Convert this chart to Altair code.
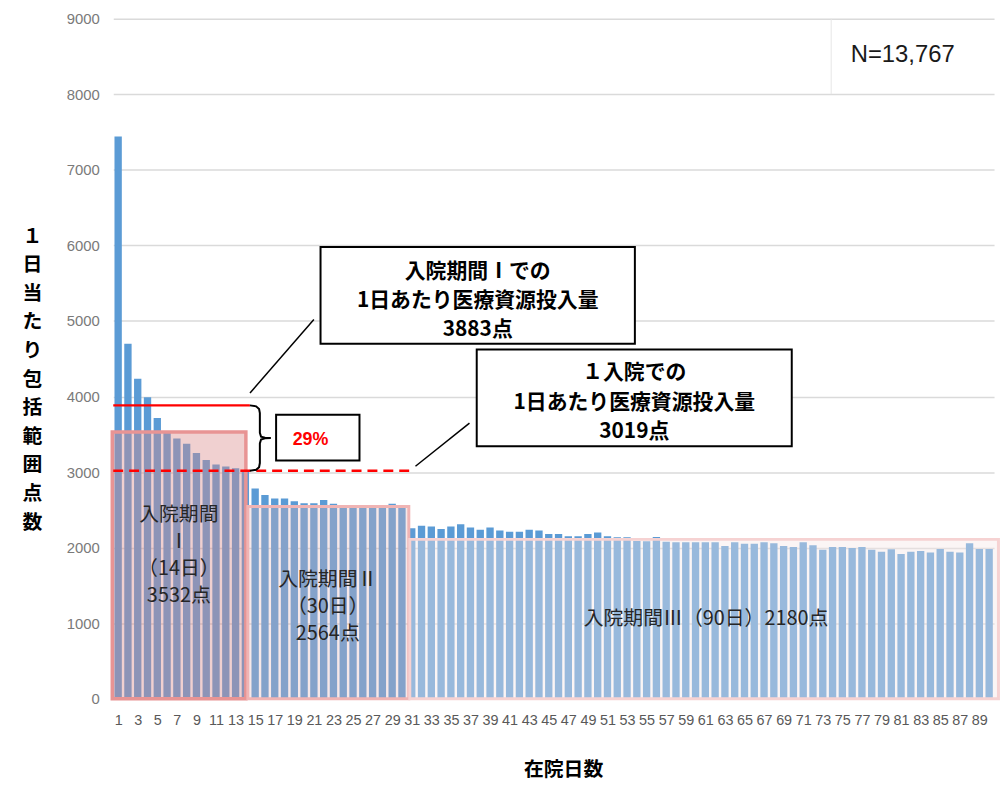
import altair as alt
import pandas as pd

# ---------------- data ----------------
days = list(range(1, 91))
values = [7440, 4700, 4235, 3990, 3717, 3530, 3444, 3374, 3253, 3162, 3101, 3076, 3050, 3025,
          2782, 2698, 2650, 2650, 2615, 2589, 2589, 2632, 2580, 2550, 2545, 2545, 2545, 2545, 2580, 2545,
          2258, 2292, 2279, 2249, 2279, 2309, 2266, 2236, 2266, 2227,
          2210, 2210, 2236, 2227, 2180, 2180, 2150, 2150, 2180, 2202,
          2150, 2137, 2137, 2090, 2085, 2142, 2080, 2073, 2073, 2073,
          2073, 2073, 2021, 2073, 2052, 2052, 2073, 2060, 2021, 2009,
          2073, 2034, 1974, 2009, 2009, 1996, 2009, 1974, 1948, 1979,
          1918, 1948, 1957, 1936, 1983, 1948, 1936, 2060, 1983, 1983]

period_start = [0.4, 14.25, 30.8]
period_end = [14.05, 30.7, 90.95]
period_box_top = [3532, 2545, 2110]
period_labels = ["入院期間\nⅠ\n（14日）\n3532点", "入院期間Ⅱ\n（30日）\n2564点", "入院期間Ⅲ（90日）2180点"]
period_label_x = [7.2, 22.42, 61.07]
period_label_y = [2430, 1570, 1051]

avg_period1 = 3883
avg_admission = 3019
tick_days = list(range(1, 90, 2))
y_ticks = list(range(0, 9001, 1000))
y_title = list("１日当たり包括範囲点数")

JP = "Noto Sans CJK JP"
XS = alt.Scale(domain=[0.5, 90.5], nice=False, zero=False)
YS = alt.Scale(domain=[0, 9000], nice=False, zero=True)

AX = alt.Axis(
    values=tick_days, format="d", labelOverlap=False, labelFlush=False, labelBound=False,
    domain=False, ticks=False, grid=False, labelPadding=15, labelFontSize=14.5,
    labelFont="Liberation Sans", labelColor="#595959",
    title="在院日数", titleFont=JP, titleFontSize=20, titleFontWeight="bold", titleColor="#000000",
    titleX=453, titleY=71, titleAlign="center", titleBaseline="middle")
AY = alt.Axis(
    values=y_ticks, format="d", domain=False, ticks=False, grid=True, gridColor="#DADADA", gridWidth=1.5,
    labelPadding=14, labelFontSize=15, labelFont="Liberation Sans", labelColor="#7A7A7A",
    title=y_title, titleFont=JP, titleFontSize=20, titleFontWeight="bold", titleColor="#000000",
    titleAngle=0, titleX=-82, titleY=219, titleAlign="center", titleBaseline="middle",
    titleLineHeight=28.8)


def X(f):
    return alt.X(f, scale=XS, axis=AX)


def Y(f):
    return alt.Y(f, scale=YS, axis=AY)


# ---------------- bars ----------------
df_bars = pd.DataFrame({"day": days, "value": values})
bars = alt.Chart(df_bars).transform_calculate(
    x0="datum.day - 0.375", x1="datum.day + 0.375"
).mark_bar(color="#5B9BD5").encode(
    x=X("x0:Q"), x2="x1:Q", y=Y("value:Q"), y2=alt.datum(0))

df_periods = pd.DataFrame({"start": period_start, "end": period_end, "top": period_box_top,
                           "label": period_labels, "lx": period_label_x, "ly": period_label_y})

box_styles = [
    dict(fill="#D98989", fillOpacity=0.4, stroke="#E89494", strokeWidth=3.5),
    dict(fill="#E6B4B4", fillOpacity=0.3, stroke="#F0B4B4", strokeWidth=3),
    dict(fill="#F5E6E6", fillOpacity=0.4, stroke="#F6D2D2", strokeWidth=3),
]
boxes = []
for i, st in enumerate(box_styles):
    boxes.append(alt.Chart(df_periods.iloc[[i]]).mark_rect(**st).encode(
        x=X("start:Q"), x2="end:Q", y=Y("top:Q"), y2=alt.datum(0)))

period_text = alt.Chart(df_periods).mark_text(
    font=JP, fontSize=20, color="#262626", lineBreak="\n", lineHeight=27,
    align="center", baseline="middle").encode(
    x=X("lx:Q"), y=Y("ly:Q"), text="label:N")

# ---------------- annotations ----------------
df_lines = pd.DataFrame({"x": [0.5], "x2": [14.46], "y": [avg_period1]})
red_solid = alt.Chart(df_lines).mark_rule(color="#FF0000", strokeWidth=2.5).encode(
    x=X("x:Q"), x2="x2:Q", y=Y("y:Q"))
df_dash = pd.DataFrame({"x": [0.5], "x2": [31.0], "y": [avg_admission]})
red_dash = alt.Chart(df_dash).mark_rule(color="#FF0000", strokeWidth=2.5, strokeDash=[10, 6]).encode(
    x=X("x:Q"), x2="x2:Q", y=Y("y:Q"))

mid = (avg_period1 + avg_admission) / 2
brace_pts = [(14.46, avg_period1), (15.1, avg_period1 - 13), (15.4, avg_period1 - 48), (15.48, avg_period1 - 103),
             (15.48, mid + 69), (15.6, mid + 19), (16.0, mid + 4), (16.6, mid),
             (16.0, mid - 4), (15.6, mid - 19), (15.48, mid - 71),
             (15.48, avg_admission + 101), (15.4, avg_admission + 46), (15.1, avg_admission + 11), (14.46, avg_admission)]
df_brace = pd.DataFrame({"i": list(range(len(brace_pts))), "bx": [p[0] for p in brace_pts],
                         "by": [p[1] for p in brace_pts]})
brace = alt.Chart(df_brace).mark_line(color="#000000", strokeWidth=2).encode(
    x=X("bx:Q"), y=Y("by:Q"), order="i:Q")

df_leaders = pd.DataFrame({"x": [21.0, 36.9], "y": [5019, 3649], "x2": [14.47, 31.38], "y2": [4047, 3078]})
leaders = alt.Chart(df_leaders).mark_rule(color="#000000", strokeWidth=1.5).encode(
    x=X("x:Q"), x2="x2:Q", y=Y("y:Q"), y2="y2:Q")

df_callouts = pd.DataFrame({"x": [21.68, 37.64, 17.14], "x2": [53.80, 69.83, 25.66],
                            "y": [4700, 3341, 3153], "y2": [5978, 4621, 3758]})
callout_boxes = alt.Chart(df_callouts).mark_rect(fill="#FFFFFF", stroke="#000000", strokeWidth=2).encode(
    x=X("x:Q"), x2="x2:Q", y=Y("y:Q"), y2="y2:Q")

df_ctext = pd.DataFrame({
    "t": ["入院期間Ⅰでの\n1日あたり医療資源投入量\n" + f"{avg_period1}点",
          "１入院での\n1日あたり医療資源投入量\n" + f"{avg_admission}点"],
    "x": [37.74, 53.74], "y": [5650, 4306]})
callout_text = alt.Chart(df_ctext).mark_text(
    font=JP, fontSize=21, fontWeight="bold", color="#000000", lineBreak="\n", lineHeight=29.5,
    align="center", baseline="middle").encode(
    x=X("x:Q"), y=Y("y:Q"), text="t:N")

df_pct = pd.DataFrame({"t": ["29%"], "x": [20.66], "y": [3429]})
pct_text = alt.Chart(df_pct).mark_text(
    font="Liberation Sans", fontSize=18, fontWeight="bold", color="#FF0000", align="center",
    baseline="middle").encode(x=X("x:Q"), y=Y("y:Q"), text="t:N")

df_n = pd.DataFrame({"t": ["N=13,767"], "x": [81.17], "y": [8521]})
n_text = alt.Chart(df_n).mark_text(
    font="Liberation Sans", fontSize=24, color="#1A1A1A", align="center", baseline="middle").encode(
    x=X("x:Q"), y=Y("y:Q"), text="t:N")
df_vl = pd.DataFrame({"x": [73.86], "y": [8000], "y2": [9000]})
n_line = alt.Chart(df_vl).mark_rule(color="#E6E6E6", strokeWidth=1).encode(
    x=X("x:Q"), y=Y("y:Q"), y2="y2:Q")

chart = alt.layer(
    bars, *boxes, period_text, red_solid, red_dash, brace, leaders,
    callout_boxes, callout_text, pct_text, n_line, n_text
).properties(
    width=887, height=685,
    autosize=alt.AutoSizeParams(type="none"),
    padding={"left": 106, "top": 8, "right": 6, "bottom": 80},
    background="#FFFFFF",
).configure_view(stroke=None)

chart.save("out.html", embed_options={"renderer": "svg", "actions": False})
